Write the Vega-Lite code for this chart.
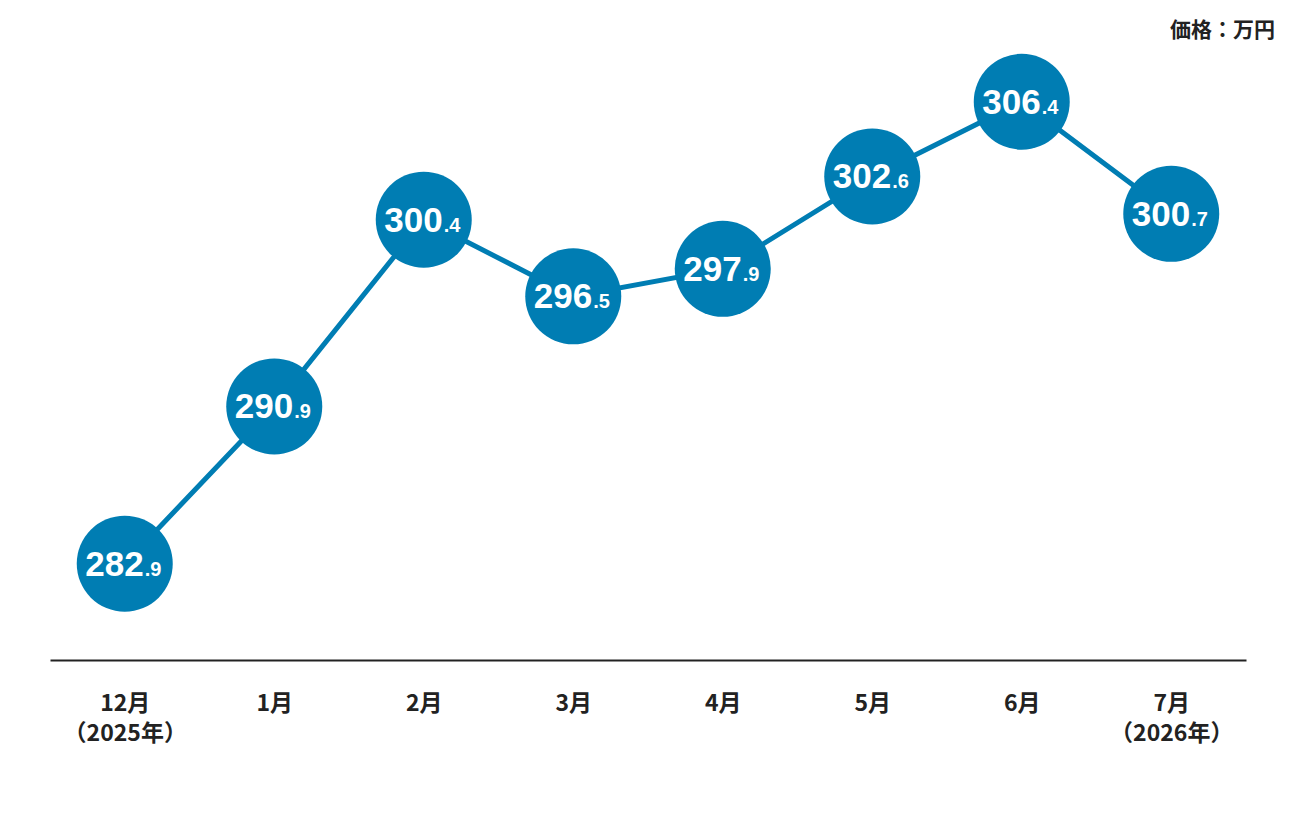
{
  "$schema": "https://vega.github.io/schema/vega-lite/v6.json",
  "width": 1196,
  "height": 629,
  "autosize": {"type": "none"},
  "padding": {"left": 50, "top": 31, "right": 50, "bottom": 156},
  "background": "#ffffff",
  "title": {
    "text": "価格：万円",
    "anchor": "end",
    "frame": "group",
    "orient": "top",
    "baseline": "middle",
    "offset": 0,
    "dx": 29,
    "dy": 21,
    "font": "Noto Sans CJK JP",
    "fontSize": 21,
    "fontWeight": "bold",
    "color": "#222222"
  },
  "data": {
    "values": [
      {"month": "12月|（2025年）", "price": 282.9},
      {"month": "1月", "price": 290.9},
      {"month": "2月", "price": 300.4},
      {"month": "3月", "price": 296.5},
      {"month": "4月", "price": 297.9},
      {"month": "5月", "price": 302.6},
      {"month": "6月", "price": 306.4},
      {"month": "7月|（2026年）", "price": 300.7}
    ]
  },
  "transform": [
    {"calculate": "floor(datum.price)", "as": "whole"},
    {"calculate": "'.' + (round(datum.price * 10) % 10)", "as": "frac"}
  ],
  "encoding": {
    "x": {
      "field": "month",
      "type": "ordinal",
      "sort": null,
      "scale": {"type": "point", "padding": 0.5},
      "axis": {
        "title": null,
        "labelAngle": 0,
        "ticks": false,
        "grid": false,
        "domainColor": "#222222",
        "domainWidth": 2,
        "labelExpr": "split(datum.value, '|')",
        "labelFont": "Noto Sans CJK JP",
        "labelFontSize": 23,
        "labelFontWeight": "bold",
        "labelColor": "#222222",
        "labelPadding": 32,
        "labelLineHeight": 30,
        "labelBaseline": "top"
      }
    },
    "y": {
      "field": "price",
      "type": "quantitative",
      "scale": {"domain": [278, 310], "zero": false},
      "axis": null
    }
  },
  "layer": [
    {"mark": {"type": "line", "color": "#007db3", "strokeWidth": 5}},
    {"mark": {"type": "circle", "color": "#007db3", "opacity": 1, "size": 9216}},
    {
      "mark": {
        "type": "text",
        "color": "#ffffff",
        "font": "Liberation Sans",
        "fontWeight": "bold",
        "fontSize": 35,
        "align": "right",
        "baseline": "alphabetic",
        "dx": 19,
        "dy": 12
      },
      "encoding": {"text": {"field": "whole", "type": "nominal"}}
    },
    {
      "mark": {
        "type": "text",
        "color": "#ffffff",
        "font": "Liberation Sans",
        "fontWeight": "bold",
        "fontSize": 20,
        "align": "left",
        "baseline": "alphabetic",
        "dx": 20,
        "dy": 12
      },
      "encoding": {"text": {"field": "frac", "type": "nominal"}}
    }
  ],
  "config": {"view": {"stroke": null}}
}
